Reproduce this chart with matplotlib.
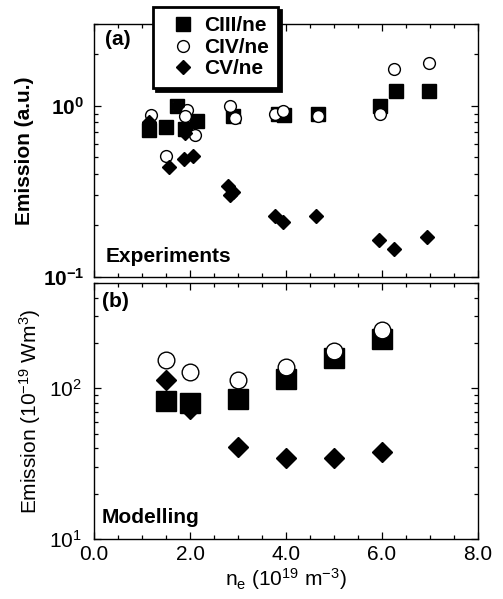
import numpy as np
import matplotlib
matplotlib.use("Agg")
import matplotlib.pyplot as plt
from matplotlib.ticker import MultipleLocator, LogLocator, NullFormatter

plt.rcParams["font.family"] = ["Liberation Sans", "DejaVu Sans"]
plt.rcParams["mathtext.default"] = "regular"

# (a) experiments
exp_ciii_x = [1.15, 1.51, 1.72, 1.90, 2.14, 2.90, 3.83, 3.96, 4.67, 5.96, 6.30, 6.97]
exp_ciii_y = [0.72, 0.75, 1.00, 0.73, 0.81, 0.87, 0.89, 0.88, 0.89, 1.00, 1.22, 1.22]
exp_civ_x = [1.18, 1.51, 1.72, 1.93, 1.90, 2.10, 2.83, 2.94, 3.77, 3.94, 4.67, 5.96, 6.24, 6.97]
exp_civ_y = [0.88, 0.51, 1.00, 0.95, 0.87, 0.67, 1.00, 0.85, 0.90, 0.93, 0.87, 0.90, 1.63, 1.78]
exp_cv_x = [1.15, 1.56, 1.72, 1.88, 1.90, 2.06, 2.80, 2.90, 2.83, 3.78, 3.93, 4.62, 5.93, 6.24, 6.94]
exp_cv_y = [0.80, 0.44, 1.00, 0.49, 0.69, 0.51, 0.34, 0.315, 0.30, 0.228, 0.209, 0.228, 0.165, 0.146, 0.171]

# (b) modelling
mod_x = [1.5, 2.0, 3.0, 4.0, 5.0, 6.0]
mod_ciii = [83, 80, 85, 115, 159, 212]
mod_civ = [154, 129, 114, 138, 176, 244]
mod_cv = [114, 73, 41, 34.6, 34.6, 37.7]

fig = plt.figure(figsize=(5.03, 5.99), dpi=100)
ax1 = fig.add_axes([0.1869, 0.5376, 0.7634, 0.4224])
ax2 = fig.add_axes([0.1869, 0.1002, 0.7634, 0.4273])

fs = 15

# top panel
ax1.plot(exp_ciii_x, exp_ciii_y, "s", ms=10, color="black", ls="none", zorder=3)
ax1.plot(exp_civ_x, exp_civ_y, "o", ms=8.5, mfc="white", mec="black", mew=1.0, ls="none", zorder=4)
ax1.plot(exp_cv_x, exp_cv_y, "D", ms=7.5, color="black", ls="none", zorder=5)

# bottom panel
ax2.plot(mod_x, mod_cv, "D", ms=10, color="black", ls="none", zorder=3)
ax2.plot(mod_x, mod_ciii, "s", ms=14, color="black", ls="none", zorder=4)
ax2.plot(mod_x, mod_civ, "o", ms=12, mfc="white", mec="black", mew=1.0, ls="none", zorder=5)

for ax in (ax1, ax2):
    ax.set_yscale("log")
    ax.set_xlim(0, 8)
    ax.xaxis.set_major_locator(MultipleLocator(2))
    ax.xaxis.set_minor_locator(MultipleLocator(0.5))
    ax.yaxis.set_minor_locator(LogLocator(base=10, subs=np.arange(2, 10)))
    ax.yaxis.set_minor_formatter(NullFormatter())
    ax.tick_params(which="both", direction="in", top=True, right=True, width=0.9)
    ax.tick_params(which="major", length=5)
    ax.tick_params(which="minor", length=3)
    for sp in ax.spines.values():
        sp.set_linewidth(1.0)

ax1.set_ylim(0.1, 3)
ax1.set_yticks([0.1, 1], labels=[r"$10^{-1}$", r"$10^{0}$"], fontsize=fs, fontweight="bold")
ax1.tick_params(axis="y", which="major", pad=7)
ax1.tick_params(axis="x", labelbottom=False)
ax1.set_ylabel("Emission (a.u.)", fontsize=fs, fontweight="bold", labelpad=6)

ax2.set_ylim(10, 500)
ax2.set_yticks([10, 100], labels=[r"$10^{1}$", r"$10^{2}$"], fontsize=fs)
ax2.tick_params(axis="y", which="major", pad=9)
ax2.set_xticks([0, 2, 4, 6, 8], labels=["0.0", "2.0", "4.0", "6.0", "8.0"], fontsize=fs)
ax2.tick_params(axis="x", which="major", pad=4)
ax2.set_ylabel(r"Emission (10$^{-19}$ Wm$^{3}$)", fontsize=fs, labelpad=4)
ax2.set_xlabel(r"n$_{e}$ (10$^{19}$ m$^{-3}$)", fontsize=fs, labelpad=2)

ax1.text(0.029, 0.937, "(a)", transform=ax1.transAxes, fontsize=fs, fontweight="bold", va="center", ha="left")
ax1.text(0.029, 0.080, "Experiments", transform=ax1.transAxes, fontsize=fs, fontweight="bold", va="center", ha="left")
ax2.text(0.020, 0.927, "(b)", transform=ax2.transAxes, fontsize=fs, fontweight="bold", va="center", ha="left")
ax2.text(0.020, 0.082, "Modelling", transform=ax2.transAxes, fontsize=fs, fontweight="bold", va="center", ha="left")

# legend
h1, = ax1.plot([], [], "s", ms=10, color="black", ls="none")
h2, = ax1.plot([], [], "o", ms=8.5, mfc="white", mec="black", mew=1.0, ls="none")
h3, = ax1.plot([], [], "D", ms=7.5, color="black", ls="none")
leg = fig.legend(
    [h1, h2, h3], ["CIII/ne", "CIV/ne", "CV/ne"],
    loc="upper left", bbox_to_anchor=(153 / 503, 1 - 7 / 599),
    bbox_transform=fig.transFigure, borderaxespad=0.0,
    prop={"size": fs, "weight": "bold"},
    frameon=True, fancybox=False, shadow={"color": "black", "alpha": 1.0},
    borderpad=0.45, handlelength=2.0, handletextpad=0.0, labelspacing=0.12,
)
leg.get_frame().set_edgecolor("black")
leg.get_frame().set_linewidth(2.0)
leg.get_frame().set_facecolor("white")
leg.get_frame().set_alpha(1.0)

fig.savefig("out.png", dpi=100)
